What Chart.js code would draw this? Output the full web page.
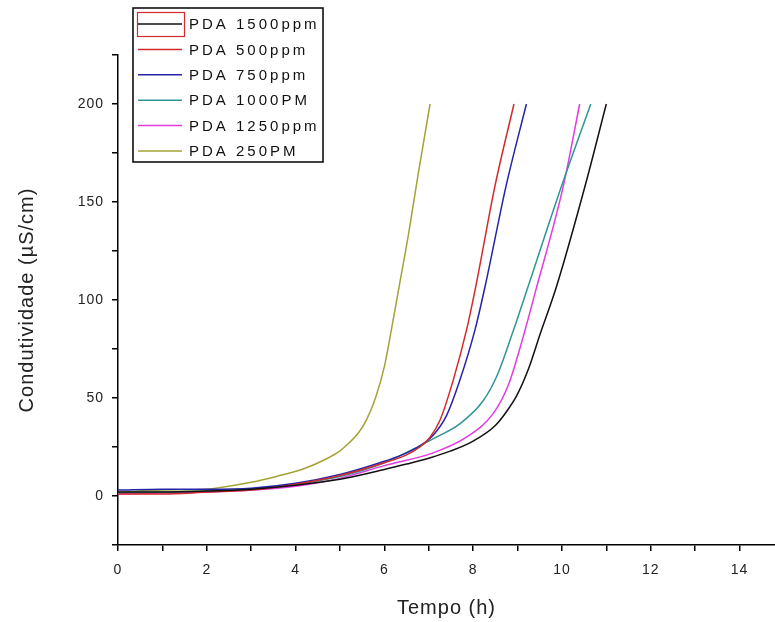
<!DOCTYPE html>
<html>
<head>
<meta charset="utf-8">
<script src="https://cdn.jsdelivr.net/npm/chart.js@4.4.0/dist/chart.umd.min.js"></script>
<style>
  body { margin: 0; background: #fff; }
  canvas { display: block; }
</style>
</head>
<body>
<canvas id="chart" width="775" height="622"></canvas>
<script>
// series values (time in h, conductivity in uS/cm)
const labels = ["PDA 1500ppm", "PDA 500ppm", "PDA 750ppm", "PDA 1000PM", "PDA 1250ppm", "PDA 250PM"];
const colors = ["#111111", "#d42a2a", "#2424a8", "#2e9696", "#e03ce0", "#a3a336"];

const time1500 = [0, 1, 2, 3, 4, 5, 6, 6.5, 7, 7.5, 8, 8.5, 8.75, 9.0, 9.25, 9.5, 9.88, 10.52, 11];
const cond1500 = [2, 2, 2.5, 3.5, 5.5, 8.5, 13.5, 16.3, 19.3, 23, 28, 36, 43, 52, 65, 82, 107, 158, 200];

const time500 = [0, 1, 2, 3, 4, 5, 6, 6.5, 6.8, 7.03, 7.25, 7.55, 7.85, 8.06, 8.49, 8.92];
const cond500 = [1, 1, 2, 3, 6, 10.5, 17, 21, 25, 30, 38.5, 59, 84.6, 107, 158, 200];

const time750 = [0, 1, 2, 3, 4, 5, 5.9, 6.4, 6.8, 7.1, 7.4, 7.7, 8.04, 8.27, 8.74, 9.2];
const cond750 = [3, 3.5, 3.5, 4, 6.5, 11, 17, 21, 25.6, 31, 41, 59, 84.6, 107, 158, 200];

const time1000 = [0, 1, 2, 3, 4, 5, 6, 6.8, 7.17, 7.7, 8.23, 8.55, 8.9, 9.24, 9.99, 10.65];
const cond1000 = [1.5, 2, 2.5, 3.5, 6, 10, 17, 25.6, 30, 36.8, 48.7, 62, 84, 107, 158, 200];

const time1250 = [0, 1, 2, 3, 4, 5, 6, 7.1, 7.85, 8.45, 8.8, 9.1, 9.4, 10.03, 10.4];
const cond1250 = [1, 1.5, 2, 3, 5, 9, 15.5, 22, 30, 42, 57, 79, 104, 158, 200];

const time250 = [0, 1, 2, 2.2, 3, 3.57, 4.2, 4.7, 5, 5.2, 5.41, 5.6, 5.8, 6.0, 6.16, 6.35, 6.54, 6.76, 7.03];
const cond250 = [2, 3, 3.5, 4, 7, 10, 14, 19, 23, 27, 32, 39, 50, 66, 85, 109, 133, 164, 200];

const times = [time1500, time500, time750, time1000, time1250, time250];
const conds = [cond1500, cond500, cond750, cond1000, cond1250, cond250];

const xTicksShown = [0, 2, 4, 6, 8, 10, 12, 14];
const yTicksShown = [0, 50, 100, 150, 200];

const FONT = "Arial, 'Liberation Sans', sans-serif";

const datasets = labels.map((name, i) => ({
  label: name,
  data: times[i].map((t, j) => ({ x: t, y: conds[i][j] })),
  borderColor: colors[i],
  backgroundColor: colors[i],
  borderWidth: 1.5,
  pointRadius: 0,
  fill: false,
  cubicInterpolationMode: "monotone"
}));

// letter spacing like the original export
const spacingPlugin = {
  id: "spacing",
  beforeDraw(chart) {
    chart.ctx.letterSpacing = "1px";
  }
};

// boxed legend in the top-left corner
const boxLegend = {
  id: "boxLegend",
  afterDraw(chart) {
    const ctx = chart.ctx;
    ctx.save();
    ctx.letterSpacing = "3px";
    ctx.strokeStyle = "#000";
    ctx.lineWidth = 1.5;
    ctx.strokeRect(133, 8, 190, 154);
    ctx.font = "15px " + FONT;
    ctx.textBaseline = "middle";
    ctx.fillStyle = "#111";
    chart.data.datasets.forEach((ds, i) => {
      const y = 24 + i * 25.4;
      ctx.strokeStyle = ds.borderColor;
      ctx.lineWidth = 1.5;
      ctx.beginPath();
      ctx.moveTo(138, y);
      ctx.lineTo(182, y);
      ctx.stroke();
      ctx.fillText(ds.label, 189, y + 1);
    });
    // red selection frame around the first sample
    ctx.strokeStyle = "#d42a2a";
    ctx.lineWidth = 1.2;
    ctx.strokeRect(137.5, 12.5, 47, 24);
    ctx.restore();
  }
};

new Chart(document.getElementById("chart"), {
  type: "line",
  data: { datasets },
  plugins: [spacingPlugin, boxLegend],
  options: {
    responsive: false,
    animation: false,
    layout: { padding: { left: 0, right: 0, top: 55, bottom: 0 } },
    plugins: { legend: { display: false }, tooltip: { enabled: false } },
    scales: {
      x: {
        type: "linear",
        min: 0,
        max: 14.8,
        afterFit: s => { s.height = 77; },
        border: { display: true, color: "#000", width: 1.5 },
        grid: { drawOnChartArea: false, drawTicks: true, tickLength: 6, color: "#000", lineWidth: 1.5 },
        ticks: {
          stepSize: 1,
          includeBounds: false,
          autoSkip: false,
          maxRotation: 0,
          padding: 11,
          color: "#222",
          font: { size: 14, family: FONT },
          callback: v => xTicksShown.includes(v) ? String(v) : ""
        },
        title: {
          display: true,
          text: "Tempo (h)",
          color: "#222",
          font: { size: 20, family: FONT },
          padding: { top: 0, bottom: 2 }
        }
      },
      y: {
        type: "linear",
        min: -25,
        max: 225,
        afterFit: s => { s.width = 118; },
        border: { display: true, color: "#000", width: 1.5 },
        grid: { drawOnChartArea: false, drawTicks: true, tickLength: 6, color: "#000", lineWidth: 1.5 },
        ticks: {
          stepSize: 25,
          autoSkip: false,
          padding: 8,
          color: "#222",
          font: { size: 14, family: FONT },
          callback: v => yTicksShown.includes(v) ? String(v) : ""
        },
        title: {
          display: true,
          text: "Condutividade (µS/cm)",
          color: "#222",
          font: { size: 20, family: FONT },
          padding: { top: 15, bottom: 0 }
        }
      }
    }
  }
});
</script>
</body>
</html>
